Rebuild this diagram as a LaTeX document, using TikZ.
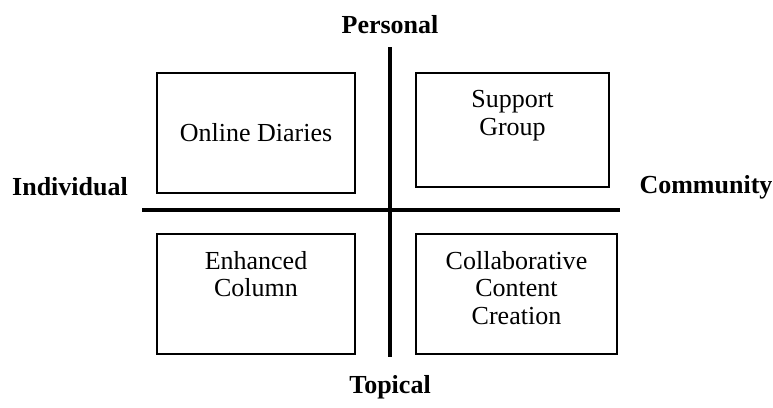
\documentclass[tikz,border=0pt]{standalone}
\usepackage{fontspec}
\setmainfont{Liberation Serif}
\begin{document}
\begin{tikzpicture}[x=1pt,y=-1pt,
  quad/.style={draw=black,line width=1.5pt,inner sep=0pt},
  axis/.style={line width=3.5pt},
  boxtext/.style={align=center,font=\fontsize{26}{27.5}\selectfont,inner sep=0pt},
  axislabel/.style={font=\fontsize{26}{27.5}\selectfont\bfseries,inner sep=0pt}]
\useasboundingbox (0,0) rectangle (773,407);
% boxes
\node[quad,minimum width=198pt,minimum height=120pt] (od) at (256,133) {};
\node[quad,minimum width=193pt,minimum height=114pt] (sg) at (512.5,130) {};
\node[quad,minimum width=198pt,minimum height=120pt] (ec) at (256,294) {};
\node[quad,minimum width=201pt,minimum height=120pt] (cc) at (516.5,294) {};
% texts
\node[boxtext] (tod) at (od.center) {Online Diaries};
\node[boxtext,anchor=north] (tsg) at ([yshift=-18pt]sg.north) {Support\\Group};
\node[boxtext,anchor=north] (tec) at ([yshift=-18pt]ec.north) {Enhanced\\Column};
\node[boxtext,anchor=north] (tcc) at ([yshift=-18pt]cc.north) {Collaborative\\Content\\Creation};
% axes
\coordinate (top) at (390,47);
\coordinate (bot) at (390,357);
\coordinate (lft) at (142,210);
\coordinate (rgt) at (620,210);
\draw[axis] (top) -- (bot);
\draw[axis] (lft) -- (rgt);
% axis labels
\node[axislabel] (pers) at (390,25) {Personal};
\node[axislabel] (topi) at (390,387) {Topical};
\node[axislabel,anchor=base] (indi) at (70,195) {Individual};
\node[axislabel,anchor=base] (comm) at (706,193) {Community};
\end{tikzpicture}
\end{document}
